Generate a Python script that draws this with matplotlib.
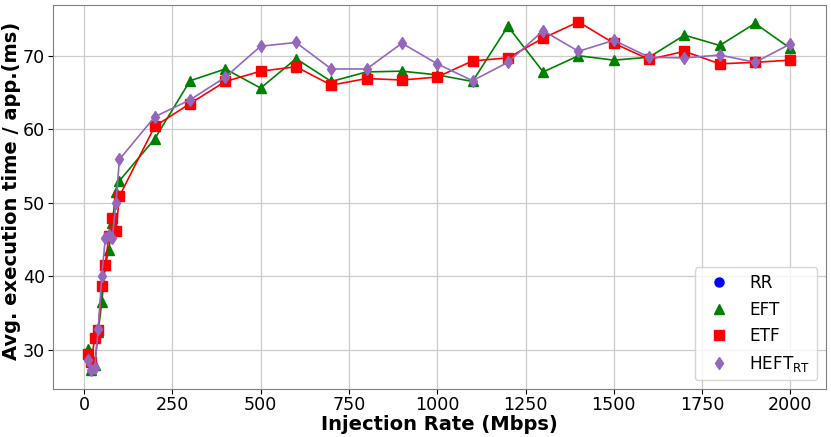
import matplotlib.pyplot as plt
from matplotlib.lines import Line2D

rates = [10, 20, 30, 40, 50, 60, 70, 80, 90, 100,
         200, 300, 400, 500, 600, 700, 800, 900, 1000,
         1100, 1200, 1300, 1400, 1500, 1600, 1700, 1800, 1900, 2000]

rr = []
eft = [30.1, 27.3, 28.0, 32.5, 36.5, 41.5, 43.6, 47.3, 51.5, 53.0,
       58.7, 66.6, 68.2, 65.6, 69.6, 66.5, 67.8, 67.9, 67.4,
       66.5, 74.0, 67.8, 70.0, 69.4, 69.8, 72.8, 71.4, 74.4, 71.0]
etf = [29.4, 28.4, 31.6, 32.7, 38.7, 41.6, 45.5, 48.0, 46.2, 50.9,
       60.4, 63.5, 66.5, 67.9, 68.5, 66.0, 66.9, 66.7, 67.1,
       69.3, 69.7, 72.4, 74.6, 71.7, 69.5, 70.6, 68.9, 69.1, 69.4]
heft = [28.6, 27.3, 27.5, 32.8, 40.0, 45.2, 45.6, 45.2, 50.0, 55.9,
        61.7, 64.0, 67.1, 71.3, 71.8, 68.2, 68.2, 71.7, 68.9,
        66.6, 69.1, 73.4, 70.6, 72.1, 69.8, 69.7, 70.1, 69.1, 71.6]

fs = 12.6
lfs = 14
fig = plt.figure(figsize=(8.31, 4.37), dpi=100)
ax = fig.add_axes([0.0634, 0.11, 0.9302, 0.8786])

styles = [("RR", rr, "o", "blue"),
          ("EFT", eft, "^", "green"),
          ("ETF", etf, "s", "red"),
          (r"HEFT$_{\mathrm{RT}}$", heft, "d", "tab:purple")]

handles = []
for name, vals, mk, col in styles:
    if vals:
        ax.plot(rates, vals, marker=mk, color=col, lw=1.2, ms=6.5)
    handles.append(Line2D([], [], ls="none", marker=mk, color=col, ms=6.5, label=name))

ax.set_xlim(-89, 2100)
ax.set_ylim(24.7, 76.9)
ax.set_yticks([30, 40, 50, 60, 70])
ax.set_xticks([0, 250, 500, 750, 1000, 1250, 1500, 1750, 2000])
ax.tick_params(labelsize=fs)
ax.tick_params(axis="x", pad=1.5)
ax.tick_params(axis="y", pad=2)
ax.grid(color="#cccccc", lw=0.9)
for s in ax.spines.values():
    s.set_color("gray")

ax.set_xlabel("Injection Rate (Mbps)", fontsize=lfs, fontweight="bold")
ax.set_ylabel("Avg. execution time / app.(ms)", fontsize=lfs, fontweight="bold")
ax.xaxis.set_label_coords(0.5, -0.067)
ax.yaxis.set_label_coords(-0.041, 0.516)

ax.legend(handles=handles, loc="lower right", fontsize=12.2)

fig.savefig("out.png", dpi=100)
